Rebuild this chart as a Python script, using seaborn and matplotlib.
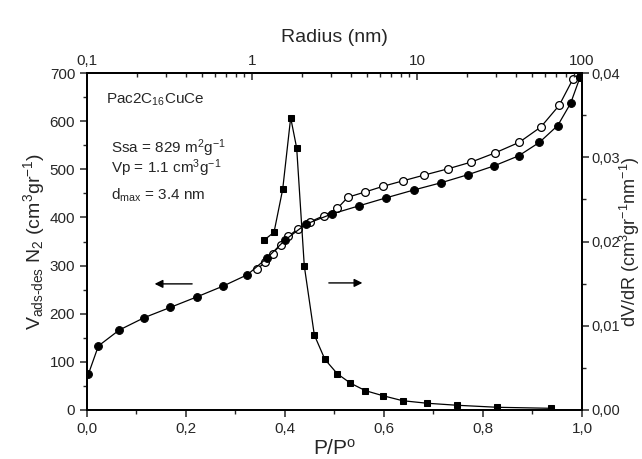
import numpy as np
import pandas as pd
import matplotlib
matplotlib.use("Agg")
import matplotlib.pyplot as plt
import seaborn as sns
from matplotlib.ticker import FixedLocator, MultipleLocator, FuncFormatter, LogLocator, NullFormatter

# Adsorption branch (filled circles)
ads_p = [0.003, 0.023, 0.065, 0.116, 0.168, 0.222, 0.274, 0.324, 0.364, 0.400,
         0.442, 0.494, 0.549, 0.605, 0.660, 0.715, 0.770, 0.822, 0.872, 0.914,
         0.951, 0.977, 0.996]
ads_v = [75, 133, 166, 192, 213, 235, 257, 281, 316, 353,
         386, 407, 424, 441, 457, 472, 489, 507, 528, 556,
         591, 637, 691]

# Desorption branch (open circles)
des_p = [0.344, 0.360, 0.375, 0.391, 0.407, 0.427, 0.451, 0.479, 0.506, 0.527,
         0.562, 0.599, 0.638, 0.681, 0.729, 0.776, 0.824, 0.873, 0.917, 0.954,
         0.982, 0.996]
des_v = [293, 307, 325, 343, 361, 377, 391, 404, 419, 442,
         453, 465, 476, 488, 501, 515, 534, 556, 588, 633,
         688, 691]

# Pore size distribution (squares) vs radius
psd_r = [1.19, 1.36, 1.535, 1.716, 1.866, 2.075, 2.387, 2.768, 3.29, 3.94,
         4.86, 6.20, 8.19, 11.5, 17.5, 30.7, 64.6]
psd_dv = [0.0202, 0.0211, 0.0262, 0.0347, 0.0311, 0.0171, 0.0089, 0.0060, 0.0043, 0.0032,
          0.0023, 0.0017, 0.0011, 0.0008, 0.00056, 0.00032, 0.0002]

ads = pd.DataFrame({"p": ads_p, "v": ads_v})
des = pd.DataFrame({"p": des_p, "v": des_v})
psd = pd.DataFrame({"r": psd_r, "dv": psd_dv})

sns.set_style("ticks")
plt.rcParams["font.family"] = ["Liberation Sans", "DejaVu Sans"]
plt.rcParams["mathtext.fontset"] = "custom"
plt.rcParams["mathtext.rm"] = "Liberation Sans"
plt.rcParams["mathtext.it"] = "Liberation Sans"
plt.rcParams["axes.linewidth"] = 1.2

comma = lambda fmt: FuncFormatter(lambda v, pos: (fmt % v).replace(".", ","))

fig = plt.figure(figsize=(6.42, 4.59), dpi=100)
ax = fig.add_axes([0.1355, 0.1068, 0.771, 0.734])

sns.lineplot(data=des, x="p", y="v", ax=ax, sort=False, color="black", lw=0.9,
             marker="o", ms=5.6, mfc="white", mec="black", mew=0.9)
sns.lineplot(data=ads, x="p", y="v", ax=ax, sort=False, color="black", lw=0.9,
             marker="o", ms=5.6, mfc="black", mec="black")

ax.set_xlim(0, 1)
ax.set_ylim(0, 700)
ax.xaxis.set_major_locator(MultipleLocator(0.2))
ax.xaxis.set_minor_locator(MultipleLocator(0.1))
ax.yaxis.set_major_locator(MultipleLocator(100))
ax.yaxis.set_minor_locator(MultipleLocator(50))
ax.xaxis.set_major_formatter(comma("%.1f"))
ax.tick_params(which="major", length=5, width=1.1, labelsize=11, direction="out")
ax.tick_params(which="minor", length=3, width=1.0, direction="out")
ax.set_xlabel("P/P$^\\mathrm{o}$", fontsize=15, labelpad=2)
ax.set_ylabel("V$_\\mathrm{ads\\text{-}des}$ N$_2$ (cm$^3$gr$^{-1}$)", fontsize=14, labelpad=2)

ax_r = ax.twinx()
ax_r.set_ylim(0, 0.04)
ax_r.yaxis.set_major_locator(MultipleLocator(0.01))
ax_r.yaxis.set_minor_locator(MultipleLocator(0.005))
ax_r.yaxis.set_major_formatter(comma("%.2f"))
ax_r.tick_params(which="major", length=5, width=1.1, labelsize=10.5, pad=2, direction="out")
ax_r.tick_params(which="minor", length=3, width=1.0, direction="out")
ax_r.set_ylabel("dV/dR (cm$^3$gr$^{-1}$nm$^{-1}$)", fontsize=13, va="center", ha="center")
ax_r.yaxis.set_label_coords(1.097, 0.5)

ax_t = ax_r.twiny()
sns.lineplot(data=psd, x="r", y="dv", ax=ax_t, sort=False, color="black", lw=0.9,
             marker="s", ms=4.8, mfc="black", mec="black")
ax_t.set_xscale("log")
ax_t.set_xlim(0.1, 100)
ax_t.set_ylim(0, 0.04)
ax_t.xaxis.set_major_locator(FixedLocator([0.1, 1, 10, 100]))
ax_t.xaxis.set_major_formatter(FuncFormatter(lambda v, pos: ("%g" % v).replace(".", ",")))
ax_t.xaxis.set_minor_locator(LogLocator(base=10, subs=np.arange(2, 10)))
ax_t.xaxis.set_minor_formatter(NullFormatter())
ax_t.tick_params(axis="x", which="major", length=5, width=1.1, labelsize=11, direction="in")
ax_t.tick_params(axis="x", which="minor", length=3, width=1.0, direction="in")
ax_t.set_xlabel("Radius (nm)", fontsize=14, labelpad=9)
ax_t.set_ylabel("")
ax_t.tick_params(axis="y", which="both", right=False, left=False, labelright=False, labelleft=False)

for a in (ax, ax_r, ax_t):
    for s in a.spines.values():
        s.set_visible(True)
        s.set_color("black")
        s.set_linewidth(1.2)

# arrows
ax.annotate("", xy=(0.131, 262), xytext=(0.218, 262),
            arrowprops=dict(arrowstyle="-|>", color="black", lw=1.0, mutation_scale=12))
ax.annotate("", xy=(0.562, 264), xytext=(0.483, 264),
            arrowprops=dict(arrowstyle="-|>", color="black", lw=1.0, mutation_scale=12))

# annotations
ax.text(0.038, 644, "Pac2C$_{16}$CuCe", fontsize=11, va="center")
ax.text(0.048, 544, "Ssa = 829 m$^2$g$^{-1}$", fontsize=11, va="center")
ax.text(0.048, 503, "Vp = 1.1 cm$^3$g$^{-1}$", fontsize=11, va="center")
ax.text(0.048, 447, "d$_\\mathrm{max}$ = 3.4 nm", fontsize=11, va="center")

fig.savefig("out.png", dpi=100)
